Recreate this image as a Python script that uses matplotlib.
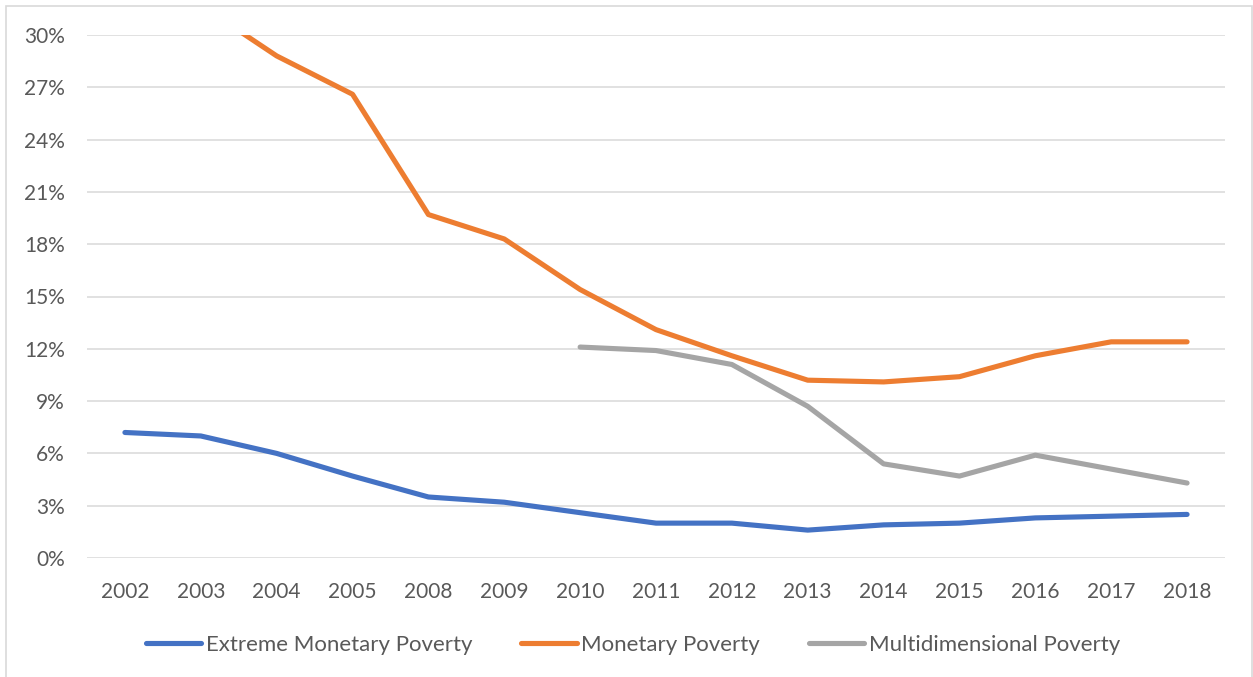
import matplotlib
matplotlib.use("Agg")
import matplotlib.pyplot as plt
from matplotlib.patches import Rectangle
from matplotlib.ticker import FuncFormatter, MultipleLocator

years = ["2002", "2003", "2004", "2005", "2008", "2009", "2010", "2011",
         "2012", "2013", "2014", "2015", "2016", "2017", "2018"]
extreme = [7.2, 7.0, 6.0, 4.7, 3.5, 3.2, 2.6, 2.0, 2.0, 1.6, 1.9, 2.0, 2.3, 2.4, 2.5]
monetary = [35.7, 31.7, 28.8, 26.6, 19.7, 18.3, 15.4, 13.1, 11.6, 10.2, 10.1, 10.4, 11.6, 12.4, 12.4]
multi_years = years[6:]
multidim = [12.1, 11.9, 11.1, 8.7, 5.4, 4.7, 5.9, 5.1, 4.3]

plt.rcParams['font.family'] = ['Lato', 'DejaVu Sans']
text_color = "#595959"

fig = plt.figure(figsize=(12.53, 6.77), dpi=100)
fig.patches.append(Rectangle((6 / 1253, -0.01), (1252 - 6) / 1253, 1 - 6 / 677 + 0.01,
                             transform=fig.transFigure, fill=False,
                             edgecolor="#D9D9D9", linewidth=1.2))

ax = fig.add_axes([87 / 1253, 1 - 558 / 677, (1225 - 87) / 1253, (558 - 35) / 677])
x = list(range(len(years)))
xm = [years.index(y) for y in multi_years]

lw = 3.7
ax.plot(x, extreme, color="#4472C4", lw=lw, solid_capstyle="round",
        solid_joinstyle="round", label="Extreme Monetary Poverty")
ax.plot(x, monetary, color="#ED7D31", lw=lw, solid_capstyle="round",
        solid_joinstyle="round", label="Monetary Poverty")
ax.plot(xm, multidim, color="#A5A5A5", lw=lw, solid_capstyle="round",
        solid_joinstyle="round", label="Multidimensional Poverty")

ax.set_xlim(-0.5, len(years) - 0.5)
ax.set_ylim(0, 30)
ax.yaxis.set_major_locator(MultipleLocator(3))
ax.yaxis.set_major_formatter(FuncFormatter(lambda v, p: f"{v:.0f}%"))
ax.set_xticks(x)
ax.set_xticklabels(years)
ax.grid(axis="y", color="#D9D9D9", linewidth=1.1)
ax.set_axisbelow(True)
for s in ax.spines.values():
    s.set_visible(False)
ax.tick_params(axis="both", length=0, labelsize=15, colors=text_color)
ax.tick_params(axis="x", pad=17)
ax.tick_params(axis="y", pad=16)

leg = fig.legend(loc="center", bbox_to_anchor=(0.505, 1 - 645 / 677), ncol=3,
                 frameon=False, fontsize=16, handlelength=2.5, handletextpad=0.2,
                 columnspacing=2.2)
for t in leg.get_texts():
    t.set_color(text_color)

fig.savefig("out.png", dpi=100)
